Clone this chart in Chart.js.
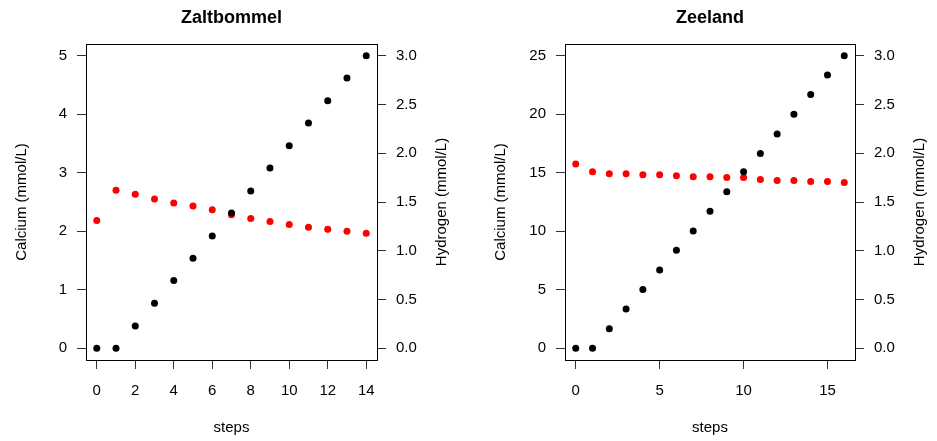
<!DOCTYPE html>
<html>
<head>
<meta charset="utf-8">
<script src="https://cdn.jsdelivr.net/npm/chart.js@4"></script>
<style>
  html, body { margin: 0; padding: 0; background: #fff; }
  .panel { position: absolute; top: 0; }
</style>
</head>
<body>
<div class="panel" style="left:0px"><canvas id="chartZaltbommel" width="468" height="441"></canvas></div>
<div class="panel" style="left:479px"><canvas id="chartZeeland" width="458" height="441"></canvas></div>
<script>
// Zaltbommel
const stepsZaltbommel = [0, 1, 2, 3, 4, 5, 6, 7, 8, 9, 10, 11, 12, 13, 14];
const calciumZaltbommel = [0, 0, 0.38, 0.77, 1.16, 1.54, 1.92, 2.31, 2.69, 3.08, 3.46, 3.85, 4.23, 4.62, 5.0];
const hydrogenZaltbommel = [1.31, 1.62, 1.58, 1.53, 1.49, 1.46, 1.42, 1.37, 1.33, 1.30, 1.27, 1.24, 1.22, 1.20, 1.18];
const stepTicksZaltbommel = [0, 2, 4, 6, 8, 10, 12, 14];
const calciumTicksZaltbommel = [0, 1, 2, 3, 4, 5];

// Zeeland
const stepsZeeland = [0, 1, 2, 3, 4, 5, 6, 7, 8, 9, 10, 11, 12, 13, 14, 15, 16];
const calciumZeeland = [0, 0, 1.68, 3.35, 5.03, 6.70, 8.38, 10.03, 11.70, 13.38, 15.08, 16.65, 18.32, 20.0, 21.68, 23.35, 25.0];
const hydrogenZeeland = [1.89, 1.81, 1.79, 1.79, 1.78, 1.78, 1.77, 1.76, 1.76, 1.75, 1.75, 1.73, 1.72, 1.72, 1.71, 1.71, 1.70];
const stepTicksZeeland = [0, 5, 10, 15];
const calciumTicksZeeland = [0, 5, 10, 15, 20, 25];

// shared right axis
const hydrogenTicks = [0, 0.5, 1.0, 1.5, 2.0, 2.5, 3.0];

const FONT = "'Liberation Sans', Arial, sans-serif";
Chart.defaults.font.family = FONT;
Chart.defaults.font.size = 15;
Chart.defaults.color = '#000';

// R-like extended range (4% on each side)
function padRange(lo, hi) {
    const d = (hi - lo) * 0.04;
    return { min: lo - d, max: hi + d };
}

// box around plot area + right axis title reading upwards
const boxPlugin = {
    id: 'rbox',
    afterDraw(chart, args, opts) {
        const { ctx, chartArea: a } = chart;
        ctx.save();
        ctx.strokeStyle = '#000';
        ctx.lineWidth = 1;
        ctx.strokeRect(Math.round(a.left) + 0.5, Math.round(a.top) + 0.5,
            Math.round(a.right - a.left), Math.round(a.bottom - a.top));
        ctx.translate(a.right + 64.5, (a.top + a.bottom) / 2);
        ctx.rotate(-Math.PI / 2);
        ctx.font = '15px ' + FONT;
        ctx.fillStyle = '#000';
        ctx.textAlign = 'center';
        ctx.textBaseline = 'middle';
        ctx.fillText(opts.rightTitle, 0, 0);
        ctx.restore();
    }
};

function tickGrid() {
    return { drawOnChartArea: false, drawTicks: true, tickLength: 9, tickColor: '#333', color: '#333' };
}

function makePanel(id, title, steps, calcium, hydrogen, stepTicks, calciumTicks, geom) {
    const xr = padRange(0, steps[steps.length - 1]);
    const yr = padRange(calciumTicks[0], calciumTicks[calciumTicks.length - 1]);
    const hr = padRange(hydrogenTicks[0], hydrogenTicks[hydrogenTicks.length - 1]);
    const canvas = document.getElementById(id);

    new Chart(canvas, {
        type: 'scatter',
        data: {
            datasets: [
                {
                    label: 'Calcium',
                    data: steps.map((s, i) => ({ x: s, y: calcium[i] })),
                    yAxisID: 'y',
                    backgroundColor: '#000',
                    borderWidth: 0,
                    pointRadius: 3.5
                },
                {
                    label: 'Hydrogen',
                    data: steps.map((s, i) => ({ x: s, y: hydrogen[i] })),
                    yAxisID: 'y1',
                    backgroundColor: '#ff0000',
                    borderWidth: 0,
                    pointRadius: 3.5
                }
            ]
        },
        options: {
            responsive: false,
            animation: false,
            layout: { padding: 0 },
            plugins: {
                legend: { display: false },
                tooltip: { enabled: false },
                title: {
                    display: true,
                    text: title,
                    fullSize: false,
                    font: { size: 18, weight: 'bold' },
                    padding: { top: 7, bottom: 15.4 }
                },
                rbox: { rightTitle: 'Hydrogen (mmol/L)' }
            },
            scales: {
                x: {
                    type: 'linear',
                    position: 'bottom',
                    min: xr.min, max: xr.max,
                    grid: tickGrid(),
                    border: { display: false },
                    afterBuildTicks: s => { s.ticks = stepTicks.map(v => ({ value: v })); },
                    afterFit: s => { s.height = geom.bottomH; },
                    ticks: { padding: 13, maxRotation: 0, autoSkip: false, callback: v => String(v) },
                    title: { display: true, text: 'steps', padding: { top: 0, bottom: 4 } }
                },
                y: {
                    type: 'linear',
                    position: 'left',
                    min: yr.min, max: yr.max,
                    grid: tickGrid(),
                    border: { display: false },
                    afterBuildTicks: s => { s.ticks = calciumTicks.map(v => ({ value: v })); },
                    afterFit: s => { s.width = geom.leftW; },
                    ticks: { padding: 10, autoSkip: false, callback: v => String(v) },
                    title: { display: true, text: 'Calcium (mmol/L)', padding: { top: geom.leftW - 73.5, bottom: 0 } }
                },
                y1: {
                    type: 'linear',
                    position: 'right',
                    min: hr.min, max: hr.max,
                    grid: tickGrid(),
                    border: { display: false },
                    afterBuildTicks: s => { s.ticks = hydrogenTicks.map(v => ({ value: v })); },
                    afterFit: s => { s.width = geom.rightW; },
                    ticks: { padding: 10, autoSkip: false, callback: v => Number(v).toFixed(1) }
                }
            }
        },
        plugins: [boxPlugin]
    });
}

makePanel('chartZaltbommel', 'Zaltbommel', stepsZaltbommel, calciumZaltbommel, hydrogenZaltbommel,
    stepTicksZaltbommel, calciumTicksZaltbommel, { leftW: 86, rightW: 91, bottomH: 81 });
makePanel('chartZeeland', 'Zeeland', stepsZeeland, calciumZeeland, hydrogenZeeland,
    stepTicksZeeland, calciumTicksZeeland, { leftW: 86, rightW: 82, bottomH: 81 });
</script>
</body>
</html>
